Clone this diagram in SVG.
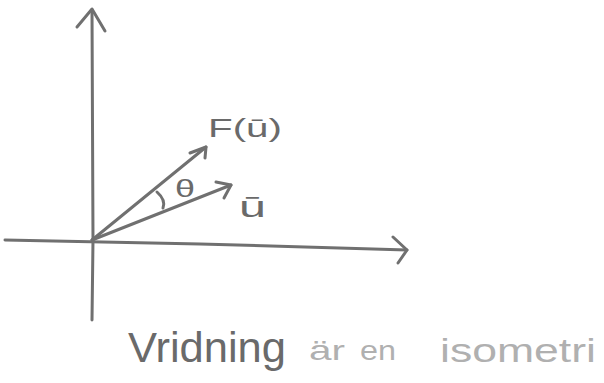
<svg xmlns="http://www.w3.org/2000/svg" width="604" height="383" viewBox="0 0 604 383">
<style>
.ln{fill:none;stroke:#707070;stroke-width:3;stroke-linecap:round;stroke-linejoin:round}
.t{font-family:"Liberation Sans","DejaVu Sans",sans-serif;fill:#6a6a6a}
.lt{font-family:"Liberation Sans","DejaVu Sans",sans-serif;fill:#b0b0b0}
</style>
<rect width="604" height="383" fill="#ffffff"/>
<g id="axes">
<path class="ln" d="M92,320 L93,240 L92,10"/>
<path class="ln" d="M77,27 L92,9 L105,31"/>
<path class="ln" d="M5,240 L200,244 L407,250"/>
<path class="ln" d="M393,237 L407,250 L398,263"/>
</g>
<g id="connectors">
<path id="vec-Fu" class="ln" d="M92,240 L206,147"/>
<path class="ln" d="M190,153 L206,147 L205,158"/>
<path id="vec-u" class="ln" d="M92,240 L231,185"/>
<path class="ln" d="M216,182 L231,185 L224,198"/>
<path id="angle" class="ln" stroke-width="2.5" d="M157,192 Q166,200 163,208"/>
</g>
<g id="labels">
<text class="t" x="208" y="137" font-size="26" textLength="74" lengthAdjust="spacingAndGlyphs">F(ū)</text>
<text class="t" x="175" y="197" font-size="24" textLength="20" lengthAdjust="spacingAndGlyphs">θ</text>
<text class="t" x="239" y="217" font-size="30" textLength="27" lengthAdjust="spacingAndGlyphs">ū</text>
<text class="t" x="128" y="362" font-size="42" textLength="158" lengthAdjust="spacingAndGlyphs">Vridning</text>
<text class="lt" x="309" y="360" font-size="28" textLength="36" lengthAdjust="spacingAndGlyphs">är</text>
<text class="lt" x="360" y="360" font-size="28" textLength="36" lengthAdjust="spacingAndGlyphs">en</text>
<text class="lt" x="440" y="362" font-size="34" textLength="156" lengthAdjust="spacingAndGlyphs">isometri</text>
</g>
</svg>
